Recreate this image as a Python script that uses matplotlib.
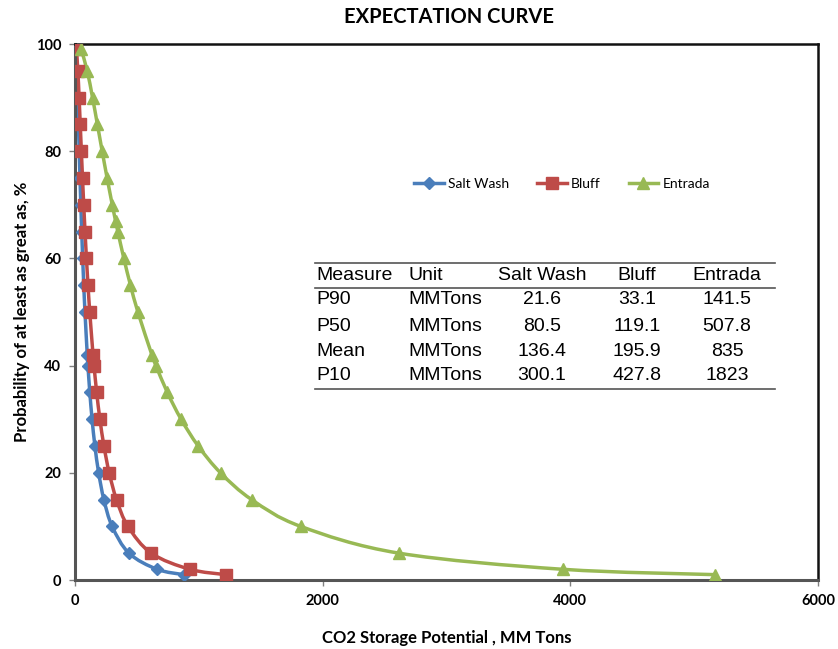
import matplotlib
matplotlib.use("Agg")
import matplotlib.pyplot as plt
from matplotlib.lines import Line2D
from matplotlib.path import Path
from matplotlib.patches import PathPatch

# ---- data ----
prob_std = [99, 95, 90, 85, 80, 75, 70, 65, 60, 55, 50, 42, 40, 35, 30, 25, 20, 15, 10, 5, 2, 1]
salt_wash = [7.4, 14.9, 21.6, 27.8, 33.9, 40.3, 47.0, 54.2, 62.1, 70.8, 80.5, 99.0, 104.4,
             119.6, 137.9, 160.8, 191.0, 233.2, 300.1, 435.7, 663, 877]
bluff = [11.7, 23.0, 33.1, 42.3, 51.4, 60.7, 70.5, 81.0, 92.5, 105.0, 119.1, 145.7, 153.4,
         175.0, 201.1, 233.7, 276.1, 335.3, 427.8, 616.1, 927, 1216.7]
prob_entrada = [99, 95, 90, 85, 80, 75, 70, 67, 65, 60, 55, 50, 42, 40, 35, 30, 25, 20, 15, 10, 5, 2, 1]
entrada = [49.9, 98.5, 141.5, 180.8, 219.4, 259.2, 301.0, 327.5, 345.8, 394.5, 448.0, 507.8,
           621, 653.7, 745.7, 856.7, 995, 1175, 1426.7, 1823, 2618, 3937, 5165]

series_names = ["Salt Wash", "Bluff", "Entrada"]
table_header = ["Measure", "Unit", "Salt Wash", "Bluff", "Entrada"]
table_measures = ["P90", "P50", "Mean", "P10"]
table_units = ["MMTons", "MMTons", "MMTons", "MMTons"]
table_salt = ["21.6", "80.5", "136.4", "300.1"]
table_bluff = ["33.1", "119.1", "195.9", "427.8"]
table_entrada = ["141.5", "507.8", "835", "1823"]

x_ticks = [0, 2000, 4000, 6000]
y_ticks = [0, 20, 40, 60, 80, 100]

# ---- figure ----
W, H = 838, 649
fig = plt.figure(figsize=(W / 100, H / 100), dpi=100)
ax = fig.add_axes([75 / W, 1 - 580 / H, (818 - 75) / W, (580 - 44) / H])


def smooth_path(xs, ys):
    """Cardinal (Excel-like) Bezier path passing through every data point."""
    pts = list(zip(xs, ys))
    n = len(pts)
    verts = [pts[0]]
    codes = [Path.MOVETO]
    for i in range(n - 1):
        p0 = pts[i - 1] if i > 0 else pts[i]
        p1 = pts[i]
        p2 = pts[i + 1]
        p3 = pts[i + 2] if i + 2 < n else pts[i + 1]
        c1 = (p1[0] + (p2[0] - p0[0]) / 6.0, p1[1] + (p2[1] - p0[1]) / 6.0)
        c2 = (p2[0] - (p3[0] - p1[0]) / 6.0, p2[1] - (p3[1] - p1[1]) / 6.0)
        verts += [c1, c2, p2]
        codes += [Path.CURVE4, Path.CURVE4, Path.CURVE4]
    return Path(verts, codes)


c_blue, c_red, c_green = "#4A7EBB", "#BE4B48", "#98B954"
styles = [
    (salt_wash, prob_std, c_blue, "D", 6),
    (bluff, prob_std, c_red, "s", 8),
    (entrada, prob_entrada, c_green, "^", 8),
]
handles = []
for (xs, ys, col, mk, ms), name in zip(styles, series_names):
    ax.add_patch(PathPatch(smooth_path(xs, ys), facecolor="none", edgecolor=col, lw=2.5,
                           zorder=2, capstyle="round", joinstyle="round"))
    ax.plot(xs, ys, linestyle="none", color=col, marker=mk, ms=ms, zorder=3)
    handles.append(Line2D([], [], color=col, lw=2.5, marker=mk, ms=ms, label=name))

ax.set_xlim(0, 6000)
ax.set_ylim(0, 100)
ax.set_xticks(x_ticks)
ax.set_yticks(y_ticks)
bold_font = ["Lato", "DejaVu Sans"]
for lab in ax.get_xticklabels() + ax.get_yticklabels():
    lab.set_fontfamily(bold_font)
    lab.set_fontweight("bold")
    lab.set_fontsize(10.5)
ax.tick_params(axis="both", direction="out", length=4, width=1, color="#808080", pad=6)
for s in ["left", "bottom"]:
    ax.spines[s].set_color("#555555")
    ax.spines[s].set_linewidth(2.2)
for s in ["top", "right"]:
    ax.spines[s].set_color("#111111")
    ax.spines[s].set_linewidth(1.8)

ax.set_xlabel("CO2 Storage Potential , MM Tons", fontfamily=bold_font, fontweight="bold",
              fontsize=12, labelpad=16)
ax.set_ylabel("Probability of at least as great as, %", fontfamily=bold_font, fontweight="bold",
              fontsize=12, labelpad=4)
fig.text(449 / W, 1 - 17 / H, "EXPECTATION CURVE", ha="center", va="center",
         fontfamily=bold_font, fontweight="bold", fontsize=14.5)

leg = ax.legend(handles=handles, loc="center",
                bbox_to_anchor=((562 - 75) / (818 - 75), 1 - (184 - 44) / (580 - 44)),
                ncol=3, frameon=False, prop={"family": ["Lato", "DejaVu Sans"], "size": 10},
                handlelength=2.15, columnspacing=2.0, handletextpad=0.3)

# ---- table ----
tf = ["Liberation Sans", "DejaVu Sans"]
fs = 14


def fx(px):
    return px / W


def fy(py):
    return 1 - py / H


col_left = [316, 408]
col_center = [542, 637, 727]
row_y = [275, 300, 326, 351, 376]

rows = [table_header] + [
    [table_measures[i], table_units[i], table_salt[i], table_bluff[i], table_entrada[i]]
    for i in range(len(table_measures))
]
for r, row in enumerate(rows):
    y = fy(row_y[r])
    for c, txt in enumerate(row):
        if c < 2:
            fig.text(fx(col_left[c]), y, txt, ha="left", va="center", fontfamily=tf, fontsize=fs)
        else:
            fig.text(fx(col_center[c - 2]), y, txt, ha="center", va="center", fontfamily=tf, fontsize=fs)

for py, lw in [(263, 1.2), (288, 1.2), (389, 1.2)]:
    fig.add_artist(Line2D([fx(315), fx(775)], [fy(py), fy(py)], color="#555555", lw=lw))

fig.savefig("out.png", dpi=100)
